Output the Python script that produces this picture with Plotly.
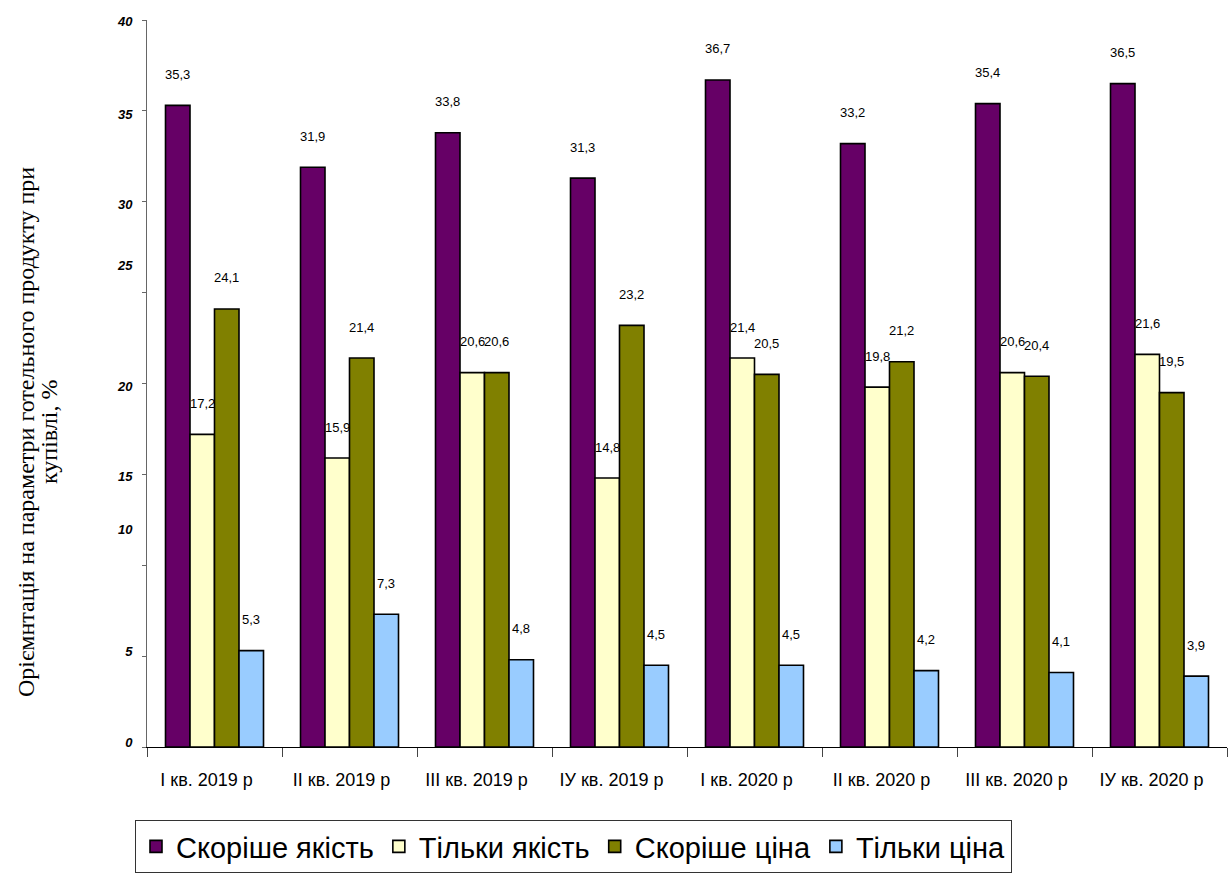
import plotly.graph_objects as go

categories = ["І кв. 2019 р", "ІІ кв. 2019 р", "ІІІ кв. 2019 р", "ІУ кв. 2019 р",
              "І кв. 2020 р", "ІІ кв. 2020 р", "ІІІ кв. 2020 р", "ІУ кв. 2020 р"]
series_names = ["Скоріше якість", "Тільки якість", "Скоріше ціна", "Тільки ціна"]
rather_quality = [35.3, 31.9, 33.8, 31.3, 36.7, 33.2, 35.4, 36.5]
only_quality = [17.2, 15.9, 20.6, 14.8, 21.4, 19.8, 20.6, 21.6]
rather_price = [24.1, 21.4, 20.6, 23.2, 20.5, 21.2, 20.4, 19.5]
only_price = [5.3, 7.3, 4.8, 4.5, 4.5, 4.2, 4.1, 3.9]
y_tick_labels = ["0", "5", "10", "15", "20", "25", "30", "35", "40"]
y_title_lines = ["Оріємнтація на параметри готельного продукту при", "купівлі, %"]

series_values = [rather_quality, only_quality, rather_price, only_price]
colors = ["#660066", "#FFFFCC", "#808000", "#99CCFF"]

W, H = 1232, 882
ML, MR, MT, MB = 147, 5, 20, 135
plot_w = W - ML - MR
plot_h = H - MT - MB
BARGAP = 0.274
group_px = plot_w / len(categories)
bar_px = group_px * (1 - BARGAP) / len(series_names)

SANS = "Liberation Sans, Arial, sans-serif"
SERIF = "Liberation Serif, Times New Roman, serif"

fig = go.Figure()
for name, vals, col in zip(series_names, series_values, colors):
    fig.add_trace(go.Bar(
        x=categories, y=vals, name=name,
        marker=dict(color=col, line=dict(color="#000000", width=1.6)),
        hoverinfo="skip",
    ))

annotations = []
n = len(series_names)
for i, vals in enumerate(series_values):
    for cat, v in zip(categories, vals):
        annotations.append(dict(
            x=cat, y=v, xref="x", yref="y",
            text=f"{v:.1f}".replace(".", ","),
            showarrow=False,
            xshift=(i - (n - 1) / 2) * bar_px,
            yshift=31, yanchor="middle", xanchor="center",
            font=dict(family=SANS, size=13, color="#000000"),
        ))

# y-axis title, two lines
title_x_px = [26, 49]
for line, xp in zip(y_title_lines, title_x_px):
    annotations.append(dict(
        x=(xp - ML) / plot_w, y=(747 - 432) / plot_h,
        xref="paper", yref="paper",
        text=line, textangle=-90, showarrow=False,
        xanchor="center", yanchor="middle",
        font=dict(family=SERIF, size=24, color="#000000"),
    ))

# label positions (the reference places "10" and "25" off their tick marks)
y_label_pos = [0.27, 5.28, 11.95, 14.87, 19.82, 26.49, 29.85, 34.8, 39.9]

fig.update_layout(
    width=W, height=H,
    margin=dict(l=ML, r=MR, t=MT, b=MB, pad=0),
    paper_bgcolor="white", plot_bgcolor="white",
    barmode="group", bargap=BARGAP, bargroupgap=0,
    showlegend=True,
    legend=dict(
        orientation="h",
        x=(135 - ML) / plot_w, y=(747 - 820) / plot_h,
        xanchor="left", yanchor="top",
        bordercolor="#333333", borderwidth=1,
        font=dict(family=SANS, size=29, color="#000000"),
        traceorder="normal",
        bgcolor="white",
    ),
    annotations=annotations,
    xaxis=dict(
        type="category",
        showline=True, linecolor="#000000", linewidth=1,
        ticks="outside", tickson="boundaries", ticklen=9, tickcolor="#444444", tickwidth=1,
        showgrid=False, zeroline=False,
        tickfont=dict(family=SANS, size=18, color="#000000"),
        ticklabelstandoff=16, ticklabelshift=-8,
    ),
    yaxis=dict(
        range=[0, 40],
        showline=True, linecolor="#666666", linewidth=1,
        tickmode="array", tickvals=y_label_pos, ticktext=y_tick_labels,
        ticks="", ticklabelstandoff=11,
        minor=dict(ticks="outside", ticklen=4, tickcolor="#666666", dtick=5, tick0=0, showgrid=False),
        showgrid=False, zeroline=False,
        tickfont=dict(family=SANS, size=13, color="#000000", weight="bold", style="italic"),
    ),
)

fig.write_html("out.html")
